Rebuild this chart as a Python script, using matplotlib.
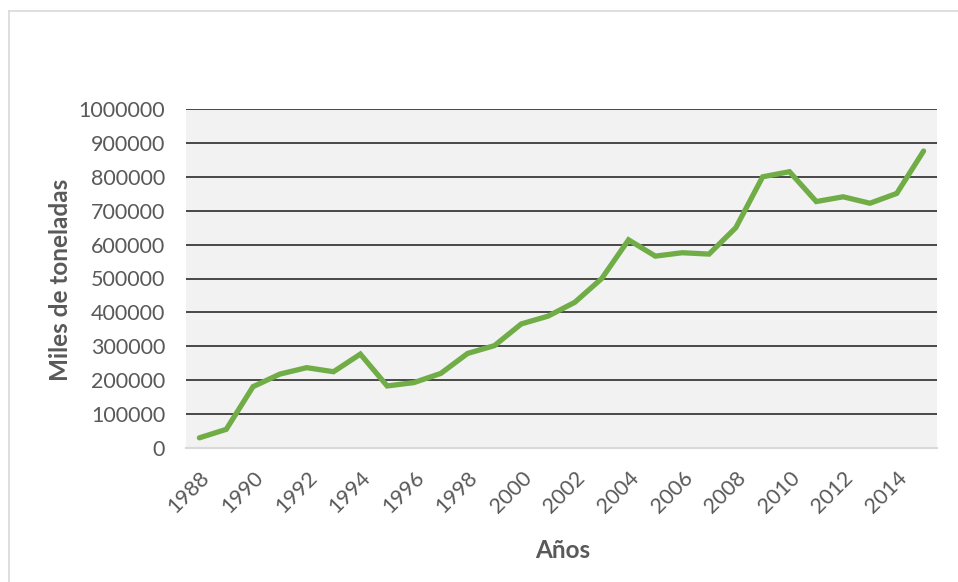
import numpy as np
import matplotlib.pyplot as plt
from matplotlib.lines import Line2D

# Annual series, thousands of tonnes
YEARS = list(range(1988, 2016))
VALUES = [30000, 55000, 181000, 218000, 237000, 225000, 277000, 183000,
          193000, 220000, 279000, 302000, 366000, 389000, 430000, 500000,
          614000, 566000, 576000, 572000, 650000, 800000, 815000, 727000,
          741000, 722000, 751000, 876000]
Y_TICKS = list(range(0, 1000001, 100000))

GREEN = '#70AD47'
TEXT = '#595959'

plt.rcParams['font.family'] = ['Lato', 'DejaVu Sans']

fig = plt.figure(figsize=(9.58, 5.82), dpi=100)
ax = fig.add_axes([186 / 958, 1 - 448 / 582, (937 - 186) / 958, (448 - 109) / 582])
ax.set_facecolor('#F2F2F2')

x = np.arange(len(YEARS))
ax.plot(x, VALUES, color=GREEN, lw=3.8, solid_capstyle='round',
        solid_joinstyle='miter', zorder=3)

ax.set_xlim(-0.5, len(YEARS) - 0.5)
ax.set_ylim(0, 1000000)
ax.set_yticks(Y_TICKS)
ax.set_yticklabels([str(v) for v in Y_TICKS])
ax.yaxis.grid(True, color='#1a1a1a', lw=1.1)
ax.set_axisbelow(True)

ax.set_xticks(x[::2])
ax.set_xticklabels([str(y) for y in YEARS[::2]], rotation=45, ha='right',
                   rotation_mode='anchor')
ax.tick_params(axis='both', length=0, labelcolor=TEXT, labelsize=15.5)
ax.tick_params(axis='x', pad=14)
ax.tick_params(axis='y', pad=15)

for side in ('top', 'left', 'right'):
    ax.spines[side].set_visible(False)
ax.spines['bottom'].set_color('#D9D9D9')
ax.spines['bottom'].set_linewidth(1.5)

fig.text(563 / 958, 1 - 551 / 582, 'Años', ha='center', va='center',
         fontsize=17.5, fontweight='bold', color=TEXT)
fig.text(60 / 958, 1 - 280 / 582, 'Miles de toneladas', ha='center', va='center',
         rotation=90, fontsize=17.5, fontweight='bold', color=TEXT)

# Thin frame around the chart area
fig.add_artist(Line2D([8.5 / 958, 8.5 / 958], [0, 1 - 10.5 / 582],
                      transform=fig.transFigure, color='#D9D9D9', lw=1.2))
fig.add_artist(Line2D([8.5 / 958, 1], [1 - 10.5 / 582, 1 - 10.5 / 582],
                      transform=fig.transFigure, color='#D9D9D9', lw=1.2))

fig.savefig('out.png', dpi=100)
